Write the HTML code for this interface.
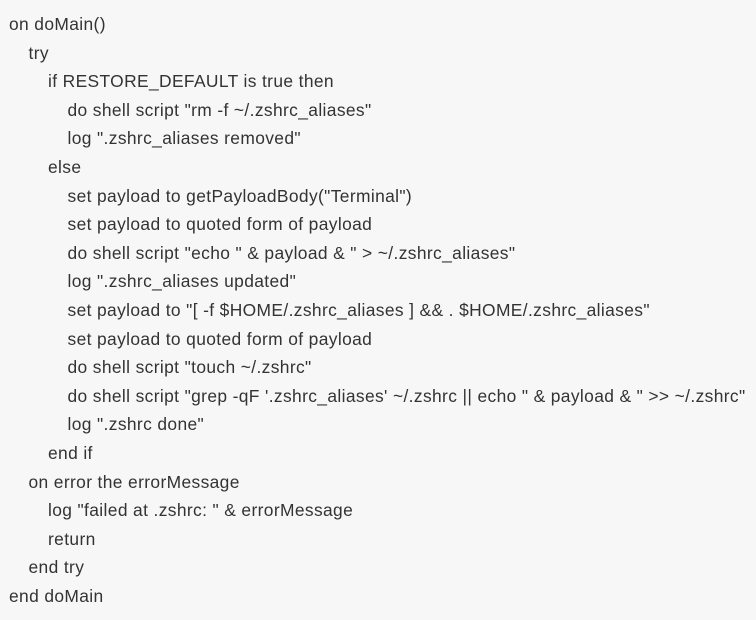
<!DOCTYPE html>
<html><head><meta charset="utf-8"><style>
html,body{margin:0;padding:0;background:#f7f7f7;}
body{width:756px;height:620px;overflow:hidden;}
pre{margin:0;padding:10px 0 0 9px;font-family:"Liberation Sans",sans-serif;font-size:17.4px;line-height:28.6px;color:#333;white-space:pre;letter-spacing:0.37px;}
.l1{padding-left:19.5px}.l2{padding-left:39px}.l3{padding-left:58.5px}
div{height:28.6px}
</style></head><body><pre><div>on doMain()</div><div class="l1">try</div><div class="l2">if RESTORE_DEFAULT is true then</div><div class="l3">do shell script "rm -f ~/.zshrc_aliases"</div><div class="l3">log ".zshrc_aliases removed"</div><div class="l2">else</div><div class="l3">set payload to getPayloadBody("Terminal")</div><div class="l3">set payload to quoted form of payload</div><div class="l3">do shell script "echo " &amp; payload &amp; " &gt; ~/.zshrc_aliases"</div><div class="l3">log ".zshrc_aliases updated"</div><div class="l3">set payload to "[ -f $HOME/.zshrc_aliases ] &amp;&amp; . $HOME/.zshrc_aliases"</div><div class="l3">set payload to quoted form of payload</div><div class="l3">do shell script "touch ~/.zshrc"</div><div class="l3">do shell script "grep -qF '.zshrc_aliases' ~/.zshrc || echo " &amp; payload &amp; " &gt;&gt; ~/.zshrc"</div><div class="l3">log ".zshrc done"</div><div class="l2">end if</div><div class="l1">on error the errorMessage</div><div class="l2">log "failed at .zshrc: " &amp; errorMessage</div><div class="l2">return</div><div class="l1">end try</div><div>end doMain</div></pre></body></html>
